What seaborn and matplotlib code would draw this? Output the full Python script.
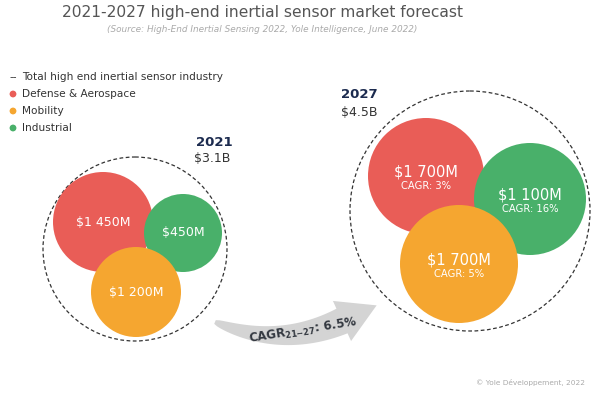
import numpy as np
import matplotlib.pyplot as plt
import seaborn as sns
from matplotlib.patches import Circle, Polygon

# ---------------------------------------------------------
# Data
# ---------------------------------------------------------

segments = ["Defense & Aerospace", "Mobility", "Industrial"]
labels_2021 = ["$1 450M", "$1 200M", "$450M"]
labels_2027 = ["$1 700M", "$1 700M", "$1 100M"]
cagr_labels = ["CAGR: 3%", "CAGR: 5%", "CAGR: 16%"]
totals = ["$3.1B", "$4.5B"]
years = ["2021", "2027"]
cagr_total = "6.5%"

# layout (pixel space of the 600x393 image)
centers_2021 = [(103, 222), (136, 292), (183, 233)]
radii_2021 = [50, 45, 39]
centers_2027 = [(426, 176), (459, 264), (530, 199)]
radii_2027 = [58, 59, 56]
total_circles = [((135, 249), 92), ((470, 211), 120)]

colors = ["#E95D57", "#F5A630", "#49B06A"]
navy = "#1C2B4F"

# ---------------------------------------------------------
# Plot Style
# ---------------------------------------------------------

sns.set_theme(style="white")
plt.rcParams["font.family"] = ["DejaVu Sans"]
plt.rcParams["mathtext.fontset"] = "dejavusans"

fig = plt.figure(figsize=(6, 3.93), dpi=100)
ax = fig.add_axes([0, 0, 1, 1])
ax.set_xlim(0, 600)
ax.set_ylim(393, 0)
ax.axis("off")

# ---------------------------------------------------------
# Title
# ---------------------------------------------------------

ax.text(262, 12, "2021-2027 high-end inertial sensor market forecast",
        ha="center", va="center", fontsize=11.2, color="#555555")
ax.text(262, 30, "(Source: High-End Inertial Sensing 2022, Yole Intelligence, June 2022)",
        ha="center", va="center", fontsize=6.4, color="#AAAAAA", style="italic")

# ---------------------------------------------------------
# Legend
# ---------------------------------------------------------

ax.text(9, 77, "--", ha="left", va="center", fontsize=7.6, color="#333333")
ax.text(22, 77, "Total high end inertial sensor industry",
        ha="left", va="center", fontsize=7.6, color="#333333")
leg_y = [94, 111, 128]
sns.scatterplot(x=[13] * 3, y=leg_y, hue=segments, palette=colors,
                s=24, linewidth=0, legend=False, ax=ax)
for name, y in zip(segments, leg_y):
    ax.text(22, y, name, ha="left", va="center", fontsize=7.6, color="#333333")

# ---------------------------------------------------------
# Bubbles
# ---------------------------------------------------------

for (c, r) in total_circles:
    ax.add_patch(Circle(c, r, fill=False, edgecolor="#333333",
                        linewidth=0.9, linestyle=(0, (3, 2)), zorder=1))

for i in [0, 2, 1]:
    ax.add_patch(Circle(centers_2021[i], radii_2021[i], color=colors[i],
                        linewidth=0, zorder=2))
    ax.text(*centers_2021[i], labels_2021[i], ha="center", va="center",
            fontsize=9, color="white", zorder=5)

for i in [0, 2, 1]:
    ax.add_patch(Circle(centers_2027[i], radii_2027[i], color=colors[i],
                        linewidth=0, zorder=2))
    cx, cy = centers_2027[i]
    ax.text(cx, cy - 4, labels_2027[i], ha="center", va="center",
            fontsize=10.5, color="white", zorder=5)
    ax.text(cx, cy + 10, cagr_labels[i], ha="center", va="center",
            fontsize=7.2, color="white", zorder=5)

# year / total labels
ax.text(196, 142, years[0], ha="left", va="center", fontsize=9.5,
        fontweight="bold", color=navy)
ax.text(194, 159, totals[0], ha="left", va="center", fontsize=9, color="#333333")
ax.text(341, 95, years[1], ha="left", va="center", fontsize=9.5,
        fontweight="bold", color=navy)
ax.text(341, 113, totals[1], ha="left", va="center", fontsize=9, color="#333333")

# ---------------------------------------------------------
# Growth arrow
# ---------------------------------------------------------

p0 = np.array([215.0, 322.0])
p1 = np.array([280.0, 349.0])
p2 = np.array([342.0, 321.0])
t = np.linspace(0, 1, 40)[:, None]
curve = (1 - t) ** 2 * p0 + 2 * (1 - t) * t * p1 + t ** 2 * p2
deriv = 2 * (1 - t) * (p1 - p0) + 2 * t * (p2 - p1)
tang = deriv / np.linalg.norm(deriv, axis=1, keepdims=True)
norm = np.column_stack([tang[:, 1], -tang[:, 0]])
half = 2 + 11.5 * t ** 0.6
upper = curve + norm * half
lower = curve - norm * half
tan_end, nor_end = tang[-1], norm[-1]
tip = p2 + tan_end * 38
head = [p2 + nor_end * 22, tip, p2 - nor_end * 22]
pts = np.vstack([upper, [head[0]], [tip], [head[2]], lower[::-1]])
ax.add_patch(Polygon(pts, closed=True, color="#D4D4D4", linewidth=0, zorder=1))

ax.text(303, 331, r"CAGR$_{\mathbf{21{-}27}}$: " + cagr_total, ha="center",
        va="center", rotation=9, fontsize=8.5, fontweight="bold",
        color="#333840", zorder=5)

# ---------------------------------------------------------
# Footer
# ---------------------------------------------------------

ax.text(585, 383, "\u00a9 Yole D\u00e9veloppement, 2022", ha="right",
        va="center", fontsize=5.3, color="#AAAAAA")

fig.savefig("out.png", dpi=100)
